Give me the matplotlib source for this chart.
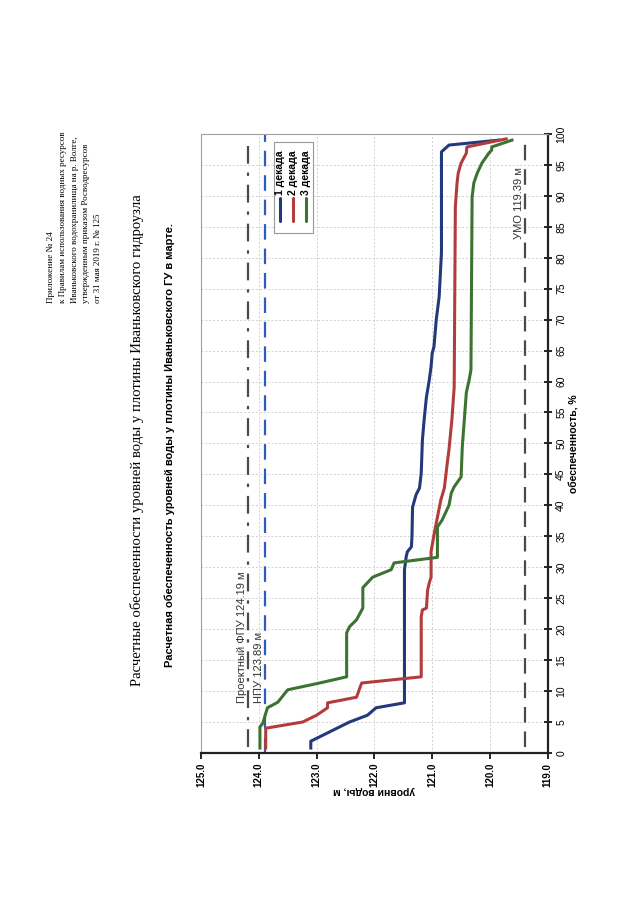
import matplotlib
matplotlib.use('Agg')
import matplotlib.pyplot as plt
from matplotlib.patches import Rectangle

# обеспеченность, % and уровни воды, м for each декада
blue_p = [0.8, 1.9, 5.0, 6.1, 7.3, 8.1, 29.6, 31.7, 32.5, 33.3, 35.0, 39.7, 41.7, 42.8, 45.2,
          50.5, 53.8, 57.5, 60.3, 62.4, 64.6, 65.6, 70.0, 73.7, 80.8, 97.1, 98.2, 99.0]
blue_h = [123.10, 123.10, 122.43, 122.12, 121.97, 121.48, 121.48, 121.45, 121.43, 121.36, 121.35,
          121.34, 121.28, 121.22, 121.19, 121.17, 121.14, 121.10, 121.05, 121.02, 121.00, 120.97,
          120.93, 120.88, 120.84, 120.84, 120.71, 119.85]

red_p = [0.8, 4.0, 5.0, 6.1, 7.3, 8.1, 9.0, 11.3, 12.3, 22.0, 23.1, 23.4, 26.3, 27.5, 28.4, 32.5,
         35.2, 38.1, 40.9, 42.8, 46.8, 49.0, 53.8, 59.1, 88.2, 92.1, 93.7, 95.3, 96.9, 97.9, 99.2]
red_h = [123.88, 123.88, 123.24, 123.00, 122.81, 122.81, 122.31, 122.22, 121.19, 121.19, 121.17,
         121.10, 121.08, 121.05, 121.02, 121.02, 120.97, 120.91, 120.85, 120.79, 120.74, 120.71,
         120.66, 120.62, 120.60, 120.57, 120.55, 120.50, 120.41, 120.40, 119.72]

green_p = [0.8, 4.2, 4.8, 7.3, 8.2, 10.2, 11.3, 12.3, 19.4, 20.4, 21.5, 23.4, 26.7, 28.4, 29.6,
           30.7, 31.6, 36.5, 37.6, 40.0, 42.0, 43.0, 44.6, 49.4, 58.2, 60.3, 61.9, 89.8, 92.1,
           93.7, 95.3, 96.9, 97.4, 97.9, 99.0]
green_h = [123.98, 123.98, 123.93, 123.85, 123.67, 123.50, 122.95, 122.48, 122.48, 122.43, 122.31,
           122.20, 122.20, 122.03, 121.71, 121.66, 120.91, 120.91, 120.83, 120.71, 120.67, 120.62,
           120.50, 120.48, 120.41, 120.36, 120.33, 120.31, 120.28, 120.22, 120.14, 120.02, 119.97,
           119.97, 119.62]

series_names = ['1 декада', '2 декада', '3 декада']
series_colors = ['#22397a', '#b23c3c', '#3d7332']

fpu = 124.19
npu = 123.89
umo = 119.39

level_ticks = [125.0, 124.0, 123.0, 122.0, 121.0, 120.0, 119.0]
prob_ticks = list(range(0, 101, 5))

sans = ['Liberation Sans', 'DejaVu Sans']
serif = ['Liberation Serif', 'DejaVu Serif']

fig = plt.figure(figsize=(6.4, 9.05), dpi=100)
ax = fig.add_axes([0.314, 0.168, 0.542, 0.684])

# page is turned: levels run along the horizontal, обеспеченность along the vertical
ax.set_xlim(125.0, 119.0)
ax.set_ylim(0, 100)

ax.set_xticks(level_ticks)
ax.set_yticks(prob_ticks)
ax.grid(True, color='#d0d0d0', linestyle=(0, (2, 2)), linewidth=0.7)
ax.set_axisbelow(True)

# reference levels
ax.plot([fpu, fpu], [1, 98], color='#4a4a4a', linewidth=1.6, linestyle=(0, (8, 4, 1.5, 4)))
ax.plot([npu, npu], [0, 100], color='#2b5cc0', linewidth=1.6, linestyle=(0, (7, 4)))
ax.plot([umo, umo], [1, 98.5], color='#4a4a4a', linewidth=1.6, linestyle=(0, (7, 4)))

ax.text(fpu + 0.02, 8, 'Проектный ФПУ 124.19 м', rotation=90, ha='right', va='bottom',
        fontsize=8, family=sans, color='#333333')
ax.text(npu + 0.02, 8, 'НПУ 123.89 м', rotation=90, ha='right', va='bottom',
        fontsize=8, family=sans, color='#333333')
ax.text(umo + 0.03, 83, 'УМО 119.39 м', rotation=90, ha='right', va='bottom',
        fontsize=8, family=sans, color='#333333')

for p, h, c in zip([blue_p, red_p, green_p], [blue_h, red_h, green_h], series_colors):
    ax.plot(h, p, color=c, linewidth=2.2, solid_joinstyle='round')

# legend turned like the rest of the page
ax.add_patch(Rectangle((0.21, 0.84), 0.113, 0.147, transform=ax.transAxes,
                       facecolor='white', edgecolor='#9a9a9a', linewidth=0.8, zorder=5))
for i, (name, c) in enumerate(zip(series_names, series_colors)):
    xf = 0.228 + i * 0.038
    ax.plot([xf, xf], [0.86, 0.897], transform=ax.transAxes, color=c, linewidth=2.2,
            solid_capstyle='round', zorder=6)
    ax.text(xf, 0.902, name, transform=ax.transAxes, rotation=90, ha='center', va='bottom',
            fontsize=7.5, fontweight='bold', family=sans, zorder=6)

for side in ['top', 'left']:
    ax.spines[side].set_color('#a0a0a0')
    ax.spines[side].set_linewidth(0.8)
for side in ['bottom', 'right']:
    ax.spines[side].set_color('#222222')
    ax.spines[side].set_linewidth(1.6)

ax.yaxis.tick_right()
ax.tick_params(axis='x', direction='out', length=4, width=1.2, pad=3)
ax.tick_params(axis='y', direction='inout', length=6, width=1.2, pad=3)
ax.set_xticklabels(['%.1f' % v for v in level_ticks], rotation=90, fontsize=7,
                   fontweight='bold', family=sans)
ax.set_yticklabels([str(v) for v in prob_ticks], rotation=90, fontsize=7.5,
                   family=sans, va='center')

ax.text(0.5, -0.062, 'уровни воды, м', transform=ax.transAxes, rotation=180,
        ha='center', va='center', fontsize=7.5, fontweight='bold', family=sans)
ax.text(1.078, 0.5, 'обеспеченность, %', transform=ax.transAxes, rotation=90,
        ha='center', va='center', fontsize=7.5, fontweight='bold', family=sans)

# page texts
fig.text(51 / 640, 1 - 303 / 905, 'Приложение № 24', rotation=90, ha='center', va='bottom',
         fontsize=6.6, family=serif)
annex = ['к Правилам использования водных ресурсов',
         'Иваньковского водохранилища на р. Волге,',
         'утвержденным приказом Росводресурсов',
         'от 31 мая 2019 г. № 125']
for i, line in enumerate(annex):
    fig.text((63 + i * 11.7) / 640, 1 - 303 / 905, line, rotation=90, ha='center',
             va='bottom', fontsize=6.5, family=serif)

fig.text(137 / 640, 1 - 440 / 905,
         'Расчетные обеспеченности уровней воды у плотины Иваньковского гидроузла',
         rotation=90, ha='center', va='center', fontsize=10.6, family=serif)
fig.text(170 / 640, 1 - 445 / 905,
         'Расчетная обеспеченность уровней воды у плотины Иваньковского ГУ в марте.',
         rotation=90, ha='center', va='center', fontsize=8, fontweight='bold', family=sans)

fig.savefig('out.png', dpi=100)
